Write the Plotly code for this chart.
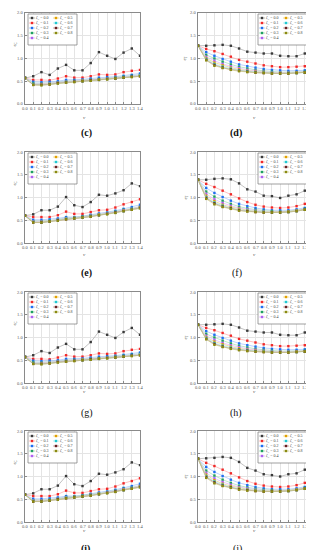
import plotly.graph_objects as go

v = [0.0, 0.1, 0.2, 0.3, 0.4, 0.5, 0.6, 0.7, 0.8, 0.9, 1.0, 1.1, 1.2, 1.3, 1.4]
zeta = ["0.0", "0.1", "0.2", "0.3", "0.4", "0.5", "0.6", "0.7", "0.8"]
x_ticks = [0.0, 0.1, 0.2, 0.3, 0.4, 0.5, 0.6, 0.7, 0.8, 0.9, 1.0, 1.1, 1.2, 1.3, 1.4]
x_tick_text = ["0.0", "0.1", "0.2", "0.3", "0.4", "0.5", "0.6", "0.7", "0.8", "0.9", "1.0", "1.1", "1.2", "1.3", "1.4"]
y_ticks = [0.0, 0.5, 1.0, 1.5, 2.0]
y_tick_text = ["0.0", "0.5", "1.0", "1.5", "2.0"]

marker_colors = ["#3a3a3a", "#f02828", "#1e6ef0", "#1fa060", "#b060f0",
                 "#e0a000", "#20c8d0", "#6a2020", "#8a8a10"]
line_colors = ["#a8a8a8", "#ffa8a8", "#a0c0ff", "#a0dcb8", "#dcb8ff",
               "#f0d480", "#a0ecf0", "#b89090", "#c8c880"]

panel_c = [
    [0.57, 0.61, 0.70, 0.64, 0.78, 0.86, 0.74, 0.74, 0.90, 1.14, 1.06, 0.99, 1.13, 1.22, 1.06],
    [0.57, 0.53, 0.53, 0.52, 0.56, 0.61, 0.58, 0.58, 0.61, 0.65, 0.64, 0.65, 0.70, 0.73, 0.75],
    [0.57, 0.49, 0.48, 0.49, 0.50, 0.53, 0.53, 0.54, 0.56, 0.58, 0.59, 0.60, 0.62, 0.64, 0.67],
    [0.57, 0.46, 0.45, 0.46, 0.48, 0.50, 0.51, 0.52, 0.54, 0.55, 0.57, 0.58, 0.60, 0.62, 0.64],
    [0.57, 0.44, 0.44, 0.45, 0.47, 0.49, 0.50, 0.51, 0.53, 0.54, 0.56, 0.57, 0.59, 0.61, 0.63],
    [0.57, 0.43, 0.43, 0.44, 0.46, 0.48, 0.49, 0.51, 0.52, 0.54, 0.55, 0.57, 0.58, 0.60, 0.62],
    [0.57, 0.43, 0.42, 0.44, 0.46, 0.48, 0.49, 0.50, 0.52, 0.53, 0.55, 0.56, 0.58, 0.60, 0.62],
    [0.57, 0.42, 0.42, 0.43, 0.46, 0.47, 0.49, 0.50, 0.52, 0.53, 0.55, 0.56, 0.58, 0.60, 0.61],
    [0.57, 0.42, 0.41, 0.43, 0.45, 0.47, 0.48, 0.50, 0.51, 0.53, 0.54, 0.56, 0.58, 0.59, 0.61],
]
panel_d = [
    [1.28, 1.28, 1.29, 1.30, 1.28, 1.22, 1.15, 1.13, 1.11, 1.11, 1.06, 1.05, 1.05, 1.11, 1.14],
    [1.28, 1.21, 1.16, 1.10, 1.04, 0.97, 0.93, 0.89, 0.85, 0.83, 0.81, 0.81, 0.82, 0.83, 0.85],
    [1.28, 1.14, 1.06, 0.99, 0.93, 0.87, 0.83, 0.80, 0.77, 0.75, 0.74, 0.73, 0.73, 0.74, 0.76],
    [1.28, 1.08, 1.00, 0.93, 0.87, 0.82, 0.78, 0.75, 0.73, 0.71, 0.70, 0.70, 0.70, 0.71, 0.73],
    [1.28, 1.04, 0.95, 0.88, 0.83, 0.79, 0.75, 0.73, 0.71, 0.69, 0.69, 0.69, 0.69, 0.70, 0.72],
    [1.28, 1.01, 0.91, 0.85, 0.80, 0.76, 0.73, 0.71, 0.70, 0.68, 0.68, 0.68, 0.69, 0.70, 0.72],
    [1.28, 0.99, 0.88, 0.82, 0.78, 0.74, 0.72, 0.70, 0.69, 0.68, 0.67, 0.68, 0.68, 0.69, 0.71],
    [1.28, 0.97, 0.86, 0.80, 0.76, 0.73, 0.71, 0.69, 0.68, 0.67, 0.67, 0.67, 0.68, 0.69, 0.71],
    [1.28, 0.96, 0.84, 0.79, 0.75, 0.72, 0.70, 0.69, 0.68, 0.67, 0.67, 0.67, 0.68, 0.69, 0.71],
]
panel_e = [
    [0.60, 0.63, 0.72, 0.72, 0.80, 1.01, 0.83, 0.79, 0.90, 1.06, 1.04, 1.09, 1.16, 1.31, 1.25],
    [0.60, 0.57, 0.57, 0.57, 0.61, 0.69, 0.64, 0.64, 0.68, 0.72, 0.73, 0.78, 0.85, 0.90, 0.96],
    [0.60, 0.51, 0.51, 0.52, 0.54, 0.57, 0.57, 0.59, 0.62, 0.65, 0.67, 0.71, 0.75, 0.79, 0.84],
    [0.60, 0.48, 0.48, 0.49, 0.52, 0.55, 0.56, 0.58, 0.61, 0.63, 0.66, 0.69, 0.73, 0.76, 0.80],
    [0.60, 0.47, 0.47, 0.48, 0.51, 0.54, 0.55, 0.57, 0.60, 0.62, 0.65, 0.68, 0.72, 0.75, 0.79],
    [0.60, 0.46, 0.46, 0.48, 0.50, 0.53, 0.55, 0.57, 0.59, 0.62, 0.64, 0.67, 0.71, 0.74, 0.78],
    [0.60, 0.46, 0.45, 0.47, 0.50, 0.53, 0.54, 0.56, 0.59, 0.61, 0.64, 0.67, 0.70, 0.74, 0.77],
    [0.60, 0.45, 0.45, 0.47, 0.50, 0.52, 0.54, 0.56, 0.58, 0.61, 0.64, 0.67, 0.70, 0.73, 0.77],
    [0.60, 0.45, 0.45, 0.47, 0.49, 0.52, 0.54, 0.56, 0.58, 0.61, 0.63, 0.66, 0.70, 0.73, 0.76],
]
panel_f = [
    [1.39, 1.39, 1.41, 1.42, 1.40, 1.31, 1.18, 1.13, 1.04, 1.03, 0.99, 1.04, 1.07, 1.15, 1.19],
    [1.39, 1.30, 1.23, 1.15, 1.07, 0.98, 0.90, 0.84, 0.80, 0.78, 0.77, 0.78, 0.81, 0.86, 0.92],
    [1.39, 1.21, 1.10, 1.01, 0.93, 0.86, 0.81, 0.77, 0.74, 0.72, 0.72, 0.72, 0.74, 0.77, 0.81],
    [1.39, 1.13, 1.02, 0.93, 0.86, 0.80, 0.76, 0.73, 0.71, 0.70, 0.69, 0.70, 0.72, 0.75, 0.79],
    [1.39, 1.08, 0.96, 0.88, 0.82, 0.77, 0.74, 0.71, 0.69, 0.68, 0.68, 0.69, 0.71, 0.74, 0.78],
    [1.39, 1.04, 0.92, 0.84, 0.79, 0.75, 0.72, 0.70, 0.68, 0.68, 0.68, 0.69, 0.71, 0.74, 0.78],
    [1.39, 1.01, 0.89, 0.82, 0.77, 0.73, 0.71, 0.69, 0.68, 0.67, 0.67, 0.68, 0.70, 0.73, 0.77],
    [1.39, 0.99, 0.87, 0.80, 0.76, 0.72, 0.70, 0.68, 0.67, 0.67, 0.67, 0.68, 0.70, 0.73, 0.77],
    [1.39, 0.97, 0.85, 0.79, 0.75, 0.71, 0.69, 0.68, 0.67, 0.67, 0.67, 0.68, 0.70, 0.73, 0.77],
]
panel_g = [
    [0.57, 0.61, 0.70, 0.66, 0.78, 0.86, 0.74, 0.74, 0.90, 1.13, 1.06, 0.99, 1.12, 1.21, 1.06],
    [0.57, 0.53, 0.53, 0.52, 0.56, 0.61, 0.58, 0.58, 0.61, 0.65, 0.64, 0.65, 0.70, 0.73, 0.75],
    [0.57, 0.49, 0.48, 0.49, 0.50, 0.53, 0.53, 0.54, 0.56, 0.58, 0.59, 0.60, 0.62, 0.64, 0.67],
    [0.57, 0.46, 0.45, 0.46, 0.48, 0.50, 0.51, 0.52, 0.54, 0.55, 0.57, 0.58, 0.60, 0.62, 0.64],
    [0.57, 0.44, 0.44, 0.45, 0.47, 0.49, 0.50, 0.51, 0.53, 0.54, 0.56, 0.57, 0.59, 0.61, 0.63],
    [0.57, 0.43, 0.43, 0.44, 0.46, 0.48, 0.49, 0.51, 0.52, 0.54, 0.55, 0.57, 0.58, 0.60, 0.62],
    [0.57, 0.43, 0.42, 0.44, 0.46, 0.48, 0.49, 0.50, 0.52, 0.53, 0.55, 0.56, 0.58, 0.60, 0.62],
    [0.57, 0.42, 0.42, 0.43, 0.46, 0.47, 0.49, 0.50, 0.52, 0.53, 0.55, 0.56, 0.58, 0.60, 0.61],
    [0.57, 0.42, 0.41, 0.43, 0.45, 0.47, 0.48, 0.50, 0.51, 0.53, 0.54, 0.56, 0.58, 0.59, 0.61],
]
panel_h = [
    [1.28, 1.28, 1.29, 1.30, 1.28, 1.22, 1.15, 1.13, 1.11, 1.11, 1.06, 1.05, 1.05, 1.11, 1.14],
    [1.28, 1.21, 1.16, 1.10, 1.04, 0.97, 0.93, 0.89, 0.85, 0.83, 0.81, 0.81, 0.82, 0.83, 0.85],
    [1.28, 1.14, 1.06, 0.99, 0.93, 0.87, 0.83, 0.80, 0.77, 0.75, 0.74, 0.73, 0.73, 0.74, 0.76],
    [1.28, 1.08, 1.00, 0.93, 0.87, 0.82, 0.78, 0.75, 0.73, 0.71, 0.70, 0.70, 0.70, 0.71, 0.73],
    [1.28, 1.04, 0.95, 0.88, 0.83, 0.79, 0.75, 0.73, 0.71, 0.69, 0.69, 0.69, 0.69, 0.70, 0.72],
    [1.28, 1.01, 0.91, 0.85, 0.80, 0.76, 0.73, 0.71, 0.70, 0.68, 0.68, 0.68, 0.69, 0.70, 0.72],
    [1.28, 0.99, 0.88, 0.82, 0.78, 0.74, 0.72, 0.70, 0.69, 0.68, 0.67, 0.68, 0.68, 0.69, 0.71],
    [1.28, 0.97, 0.86, 0.80, 0.76, 0.73, 0.71, 0.69, 0.68, 0.67, 0.67, 0.67, 0.68, 0.69, 0.71],
    [1.28, 0.96, 0.84, 0.79, 0.75, 0.72, 0.70, 0.69, 0.68, 0.67, 0.67, 0.67, 0.68, 0.69, 0.71],
]
panel_i = [
    [0.60, 0.63, 0.72, 0.72, 0.80, 1.01, 0.83, 0.79, 0.90, 1.06, 1.04, 1.09, 1.16, 1.31, 1.25],
    [0.60, 0.57, 0.57, 0.57, 0.61, 0.69, 0.64, 0.64, 0.68, 0.72, 0.73, 0.78, 0.85, 0.90, 0.96],
    [0.60, 0.51, 0.51, 0.52, 0.54, 0.57, 0.57, 0.59, 0.62, 0.65, 0.67, 0.71, 0.75, 0.79, 0.84],
    [0.60, 0.48, 0.48, 0.49, 0.52, 0.55, 0.56, 0.58, 0.61, 0.63, 0.66, 0.69, 0.73, 0.76, 0.80],
    [0.60, 0.47, 0.47, 0.48, 0.51, 0.54, 0.55, 0.57, 0.60, 0.62, 0.65, 0.68, 0.72, 0.75, 0.79],
    [0.60, 0.46, 0.46, 0.48, 0.50, 0.53, 0.55, 0.57, 0.59, 0.62, 0.64, 0.67, 0.71, 0.74, 0.78],
    [0.60, 0.46, 0.45, 0.47, 0.50, 0.53, 0.54, 0.56, 0.59, 0.61, 0.64, 0.67, 0.70, 0.74, 0.77],
    [0.60, 0.45, 0.45, 0.47, 0.50, 0.52, 0.54, 0.56, 0.58, 0.61, 0.64, 0.67, 0.70, 0.73, 0.77],
    [0.60, 0.45, 0.45, 0.47, 0.49, 0.52, 0.54, 0.56, 0.58, 0.61, 0.63, 0.66, 0.70, 0.73, 0.76],
]
panel_j = [
    [1.39, 1.40, 1.41, 1.43, 1.41, 1.32, 1.19, 1.13, 1.05, 1.03, 1.00, 1.05, 1.07, 1.15, 1.19],
    [1.39, 1.30, 1.23, 1.15, 1.07, 0.98, 0.90, 0.84, 0.80, 0.78, 0.77, 0.78, 0.81, 0.86, 0.92],
    [1.39, 1.21, 1.10, 1.01, 0.93, 0.86, 0.81, 0.77, 0.74, 0.72, 0.72, 0.72, 0.74, 0.77, 0.81],
    [1.39, 1.13, 1.02, 0.93, 0.86, 0.80, 0.76, 0.73, 0.71, 0.70, 0.69, 0.70, 0.72, 0.75, 0.79],
    [1.39, 1.08, 0.96, 0.88, 0.82, 0.77, 0.74, 0.71, 0.69, 0.68, 0.68, 0.69, 0.71, 0.74, 0.78],
    [1.39, 1.04, 0.92, 0.84, 0.79, 0.75, 0.72, 0.70, 0.68, 0.68, 0.68, 0.69, 0.71, 0.74, 0.78],
    [1.39, 1.01, 0.89, 0.82, 0.77, 0.73, 0.71, 0.69, 0.68, 0.67, 0.67, 0.68, 0.70, 0.73, 0.77],
    [1.39, 0.99, 0.87, 0.80, 0.76, 0.72, 0.70, 0.68, 0.67, 0.67, 0.67, 0.68, 0.70, 0.73, 0.77],
    [1.39, 0.97, 0.85, 0.79, 0.75, 0.71, 0.69, 0.68, 0.67, 0.67, 0.67, 0.68, 0.70, 0.73, 0.77],
]

panel_names = ["(c)", "(d)", "(e)", "(f)", "(g)", "(h)", "(i)", "(j)"]
panel_bold = [True, True, True, False, False, False, True, False]
panel_data = [panel_c, panel_d, panel_e, panel_f, panel_g, panel_h, panel_i, panel_j]
y_titles = ["ε<sub>C</sub>", "ε<sub>T</sub>"]

W, H = 314, 550
col_x = [(17, 132), (190, 305)]
row_y = [(5, 96), (144, 235), (284, 375), (423, 514)]
label_y = [125, 265, 405, 541]
label_x = [73, 234]

SERIF = "Liberation Serif"
fig = go.Figure()
layout = dict(width=W, height=H, margin=dict(l=0, r=0, t=0, b=0),
              paper_bgcolor="white", plot_bgcolor="white", showlegend=False,
              font=dict(family=SERIF, color="#444"))
shapes, annotations = [], []
tick_font = dict(size=4.5, family=SERIF, color="#555")


def ann(**kw):
    kw.setdefault("showarrow", False)
    kw.setdefault("borderpad", 0)
    kw.setdefault("borderwidth", 0)
    annotations.append(kw)


for p in range(8):
    r, c = divmod(p, 2)
    k = "" if p == 0 else str(p + 1)
    xa, ya = "x" + k, "y" + k
    x0, x1 = col_x[c]
    y0, y1 = row_y[r]
    axis_common = dict(showline=True, mirror=True, linecolor="#8a8a8a", linewidth=1.2,
                       showgrid=True, gridcolor="#e4e4e4", gridwidth=0.6,
                       zeroline=False, ticks="inside", ticklen=1.5, tickcolor="#8a8a8a",
                       showticklabels=False, tickmode="linear", tick0=0)
    layout["xaxis" + k] = dict(domain=[x0 / W, x1 / W], anchor=ya, range=[0, 1.4],
                               dtick=0.1, **axis_common)
    layout["yaxis" + k] = dict(domain=[1 - y1 / H, 1 - y0 / H], anchor=xa, range=[0, 2.0],
                               dtick=0.5, **axis_common)
    # tick labels placed through the axes
    for tv, tt in zip(x_ticks, x_tick_text):
        ann(xref=xa, yref=ya + " domain", x=tv, y=0, yanchor="top",
            yshift=-2, text=tt, font=tick_font)
    for tv, tt in zip(y_ticks, y_tick_text):
        ann(xref=xa + " domain", yref=ya, x=0, y=tv, xanchor="right",
            xshift=-2, text=tt, font=tick_font)
    for s in range(9):
        fig.add_trace(go.Scatter(x=v, y=panel_data[p][s], xaxis=xa, yaxis=ya, mode="lines+markers",
                                 line=dict(color=line_colors[s], width=0.7),
                                 marker=dict(symbol="square", size=2.4, color=marker_colors[s])))
    # x title
    ann(xref="paper", yref="paper", x=((x0 + x1) / 2) / W, y=1 - (y1 + 11) / H,
        text="<i>v</i>", font=dict(size=5, family=SERIF, color="#444"))
    # y title
    ty = 0.68 if c == 0 else 0.5
    ann(xref="paper", yref=ya + " domain", x=(x0 - 13) / W, y=ty,
        text=y_titles[c], textangle=-90, font=dict(size=5, family=SERIF, color="#444"))
    # panel label
    lbl = "<b>" + panel_names[p] + "</b>" if panel_bold[p] else panel_names[p]
    ann(xref="paper", yref="paper", x=label_x[c] / W, y=1 - label_y[r] / H,
        text=lbl, yanchor="middle", font=dict(size=10, family=SERIF, color="#111"))
    # legend box
    pw, ph = x1 - x0, y1 - y0
    if c == 0:
        bx0, bx1 = 3 / pw, 52 / pw
    else:
        bx0, bx1 = 60 / pw, 1.0
    by1, by0 = 1 - 1 / ph, 1 - 32 / ph
    shapes.append(dict(type="rect", xref=xa + " domain", yref=ya + " domain",
                       x0=bx0, x1=bx1, y0=by0, y1=by1, line=dict(color="#777", width=0.7),
                       fillcolor="white", layer="above"))
    for s in range(9):
        colm = 0 if s < 5 else 1
        row = s if s < 5 else s - 5
        ex = bx0 + (4 + colm * 24) / pw
        ey = by1 - (4 + row * 5.0) / ph
        shapes.append(dict(type="line", xref=xa + " domain", yref=ya + " domain",
                           xsizemode="pixel", xanchor=ex, x0=-3, x1=3, y0=ey, y1=ey,
                           line=dict(color=line_colors[s], width=0.8), layer="above"))
        shapes.append(dict(type="rect", xref=xa + " domain", yref=ya + " domain",
                           xsizemode="pixel", ysizemode="pixel", xanchor=ex, yanchor=ey,
                           x0=-1.2, x1=1.2, y0=-1.2, y1=1.2,
                           fillcolor=marker_colors[s], line=dict(width=0), layer="above"))
        ann(xref=xa + " domain", yref=ya + " domain", x=ex + 4 / pw, y=ey,
            xanchor="left", yanchor="middle",
            text="<i>ζ</i><sub>T</sub> = " + zeta[s],
            font=dict(size=4, family=SERIF, color="#444"))

layout["shapes"] = shapes
layout["annotations"] = annotations
fig.update_layout(**layout)
fig.write_html("out.html")
